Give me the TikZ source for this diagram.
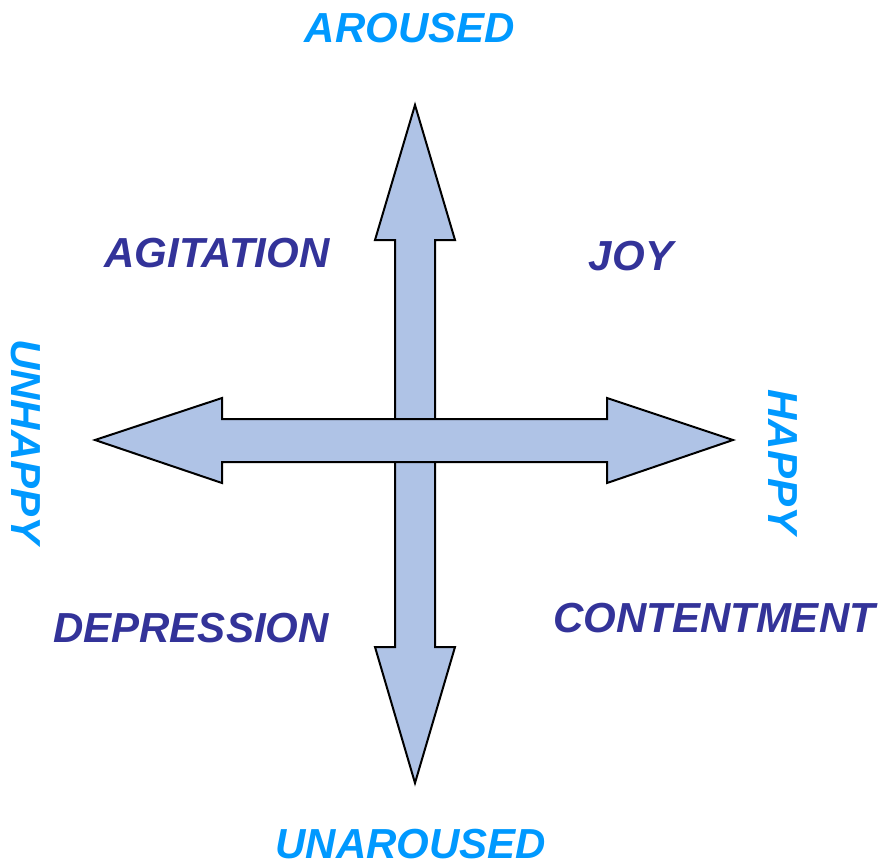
\documentclass[tikz,border=0pt]{standalone}
\usepackage{fontspec}
\setmainfont{Liberation Sans}
\definecolor{axisblue}{HTML}{0099FF}
\definecolor{quadblue}{HTML}{333399}
\definecolor{arrowfill}{HTML}{AFC3E6}
\begin{document}
\begin{tikzpicture}[x=1pt,y=-1pt,
  arrowshape/.style={draw=black,fill=arrowfill,line width=2pt,line join=miter},
  axislabel/.style={text=axisblue,font=\fontsize{42}{42}\selectfont\bfseries\itshape,inner sep=0pt,anchor=base},
  quadlabel/.style={text=quadblue,font=\fontsize{42}{42}\selectfont\bfseries\itshape,inner sep=0pt,anchor=base}]
\path[use as bounding box] (0,0) rectangle (882,864);
% vertical double arrow
\draw[arrowshape] (415,105) -- (455,240) -- (435,240) -- (435,647) -- (455,647) -- (415,783)
  -- (375,647) -- (395,647) -- (395,240) -- (375,240) -- cycle;
% horizontal double arrow
\draw[arrowshape] (95,440) -- (222,398) -- (222,419) -- (607,419) -- (607,398) -- (733,440)
  -- (607,483) -- (607,462) -- (222,462) -- (222,483) -- cycle;
% axis labels
\node[axislabel] (aroused) at (410,43) {AROUSED};
\node[axislabel] (unaroused) at (411,858) {UNAROUSED};
\node[axislabel,rotate=-90] (unhappy) at (12,442) {UNHAPPY};
\node[axislabel,rotate=-90] (happy) at (768,462) {HAPPY};
% quadrant labels
\node[quadlabel] (agitation) at (217,267) {AGITATION};
\node[quadlabel] (joy) at (631,270) {JOY};
\node[quadlabel] (depression) at (191,642) {DEPRESSION};
\node[quadlabel] (contentment) at (714,632) {CONTENTMENT};
\end{tikzpicture}
\end{document}
